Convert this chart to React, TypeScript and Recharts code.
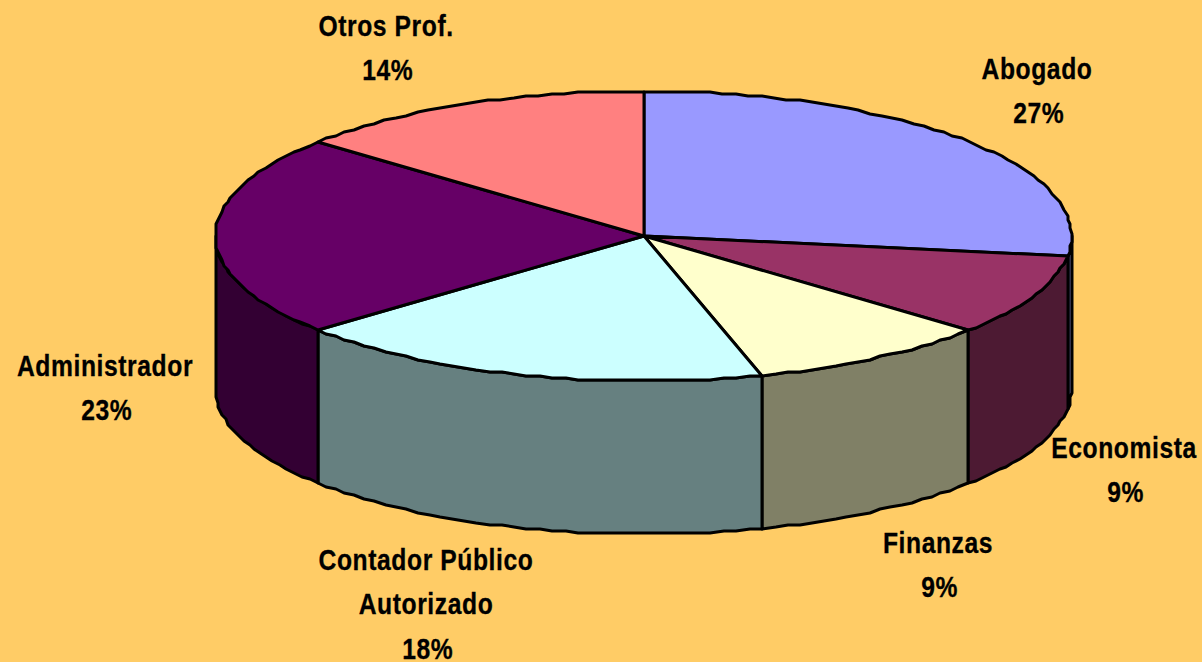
import React from 'react';
import { PieChart, Pie, Cell } from 'recharts';

const categories = ['Abogado', 'Economista', 'Finanzas', 'Contador Público\nAutorizado', 'Administrador', 'Otros Prof.'];
const shares = [27.2, 9.2, 9.2, 18.3, 22.5, 13.8];
const topColors = ['#9999FF', '#993366', '#FFFFCC', '#CCFFFF', '#660066', '#FF8080'];
const wallColors = ['#666699', '#4D1A33', '#808066', '#668080', '#330033', '#804040'];
const labelAnchors = [[1037, 69], [1124, 448], [938, 543], [426, 560], [105, 366], [386, 26]];

const W = 1202, H = 662;
const CX = 643.5, CY = 236, RX = 428, RY = 145, DEPTH = 153;
const FONT = '"Liberation Sans", Arial, sans-serif';
const TEXT_SQUEEZE = 0.85;

const data = categories.map((name, i) => ({ name, value: shares[i] }));

const snap = (v: number) => Math.round(v / 2) * 2;
const pt = (deg: number, dy = 0): [number, number] => {
  const r = (deg * Math.PI) / 180;
  return [snap(CX + RX * Math.cos(r)), snap(CY - RY * Math.sin(r)) + dy];
};
const arc = (a0: number, a1: number, dy = 0): [number, number][] => {
  const n = Math.max(2, Math.ceil(Math.abs(a0 - a1) / 1.8));
  const out: [number, number][] = [];
  for (let i = 0; i <= n; i++) out.push(pt(a0 + ((a1 - a0) * i) / n, dy));
  return out;
};
const toPath = (pts: [number, number][]) => 'M' + pts.map((p) => p.join(',')).join('L') + 'Z';

const TopShape = (props: any) => {
  const { startAngle, endAngle, fill } = props;
  const d = toPath([[snap(CX), CY], ...arc(startAngle, endAngle)]);
  return <path d={d} fill={fill} stroke="#000" strokeWidth={3} strokeLinejoin="round" />;
};

const WallShape = (props: any) => {
  const { startAngle, endAngle, fill } = props;
  // visible part: math angle within [-180, 0] (front half of the cylinder)
  const s = Math.min(startAngle, 0);
  const e = Math.max(endAngle, -180);
  if (s <= e) return <g />;
  const top = arc(s, e);
  const bottom = arc(e, s, DEPTH);
  return <path d={toPath([...top, ...bottom])} fill={fill} stroke="#000" strokeWidth={3} strokeLinejoin="round" />;
};

const SliceLabel = (props: any) => {
  const i = props.index as number;
  const [x, y] = labelAnchors[i];
  const lines = [...categories[i].split('\n'), `${Math.round(shares[i])}%`];
  return (
    <g transform={`translate(${x},0) scale(${TEXT_SQUEEZE},1)`}>
      <text textAnchor="middle" fontFamily={FONT} fontWeight={700} fontSize={29} letterSpacing={0.7} fill="#000" stroke="#000" strokeWidth={0.3}>
        {lines.map((l, k) => (
          <tspan key={k} x={k === lines.length - 1 ? 2 : 0} y={y + 10 + k * 44.5}>
            {l}
          </tspan>
        ))}
      </text>
    </g>
  );
};

export default function App() {
  return (
    <div style={{ position: 'absolute', left: 0, top: 0, width: W, height: H, background: '#FFCC66', overflow: 'hidden' }}>
      <PieChart width={W} height={H} margin={{ top: 0, right: 0, bottom: 0, left: 0 }}>
        <Pie
          data={data}
          dataKey="value"
          cx={CX}
          cy={CY}
          outerRadius={RX}
          startAngle={90}
          endAngle={-270}
          isAnimationActive={false}
          shape={WallShape}
          stroke="none"
        >
          {data.map((d, i) => (
            <Cell key={d.name} fill={wallColors[i]} />
          ))}
        </Pie>
        <Pie
          data={data}
          dataKey="value"
          cx={CX}
          cy={CY}
          outerRadius={RX}
          startAngle={90}
          endAngle={-270}
          isAnimationActive={false}
          shape={TopShape}
          label={SliceLabel}
          labelLine={false}
          stroke="none"
        >
          {data.map((d, i) => (
            <Cell key={d.name} fill={topColors[i]} />
          ))}
        </Pie>
      </PieChart>
    </div>
  );
}
